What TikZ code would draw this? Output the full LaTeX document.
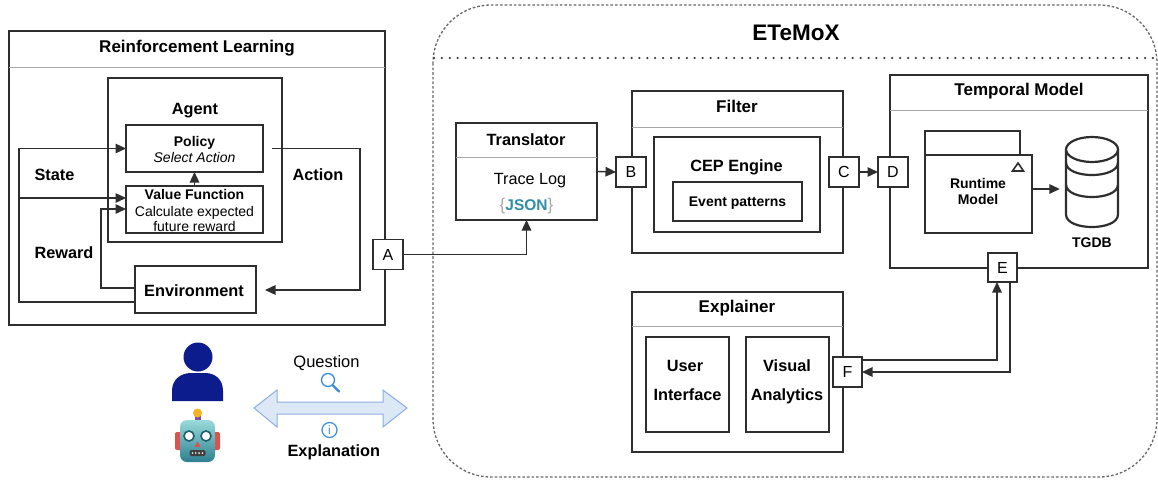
\documentclass[tikz,border=0pt]{standalone}
\usepackage{fontspec}
\setmainfont{Liberation Sans}
\usetikzlibrary{arrows.meta}
\definecolor{linec}{HTML}{2E2E2E}
\definecolor{sepc}{HTML}{A8A8A8}
\definecolor{contc}{HTML}{666666}
\definecolor{dotc}{HTML}{404040}
\definecolor{navy}{HTML}{0C1C8C}
\definecolor{jsonc}{HTML}{2E8FA6}
\definecolor{bracec}{HTML}{A8A8A8}
\definecolor{arrfill}{HTML}{DDE8F7}
\definecolor{arrline}{HTML}{8FAEDD}
\definecolor{iconc}{HTML}{3B8BE0}
\definecolor{robotred}{HTML}{D9534F}
\definecolor{robotorange}{HTML}{F5B323}
\definecolor{robotpurple}{HTML}{7B4FA0}
\definecolor{robottop}{HTML}{9ADADA}
\definecolor{robotbot}{HTML}{2D8090}
\definecolor{roboteye}{HTML}{1F5F70}
\begin{document}
\begin{tikzpicture}[x=1pt,y=-1pt,
  box/.style={draw=linec, line width=1.4pt, fill=white, inner sep=0pt, outer sep=0pt},
  port/.style={box, minimum width=30pt, minimum height=30pt, font=\fontsize{16}{18}\selectfont},
  sep/.style={draw=sepc, line width=0.9pt},
  ln/.style={draw=linec, line width=1.4pt},
  arr/.style={ln, -{Triangle[length=10.5pt,width=9.5pt]}},
  txt/.style={inner sep=0pt, anchor=base},
  big/.style={txt, font=\bfseries\fontsize{16.3}{18}\selectfont},
  ttl/.style={txt, font=\bfseries\fontsize{17}{19}\selectfont},
  sml/.style={txt, font=\bfseries\fontsize{14}{16}\selectfont},
  reg/.style={txt, font=\fontsize{14}{16}\selectfont},
  pkg/.style={draw=linec, line width=2.2pt, fill=white},
]
\useasboundingbox (0,0) rectangle (1158,479);

% ---------------- Reinforcement Learning ----------------
\node[box, minimum width=376pt, minimum height=294pt] (rl) at (197,178) {};
\draw[sep] (9,67) -- (385,67);
\node[ttl] (rlT) at (197,52) {Reinforcement Learning};

\node[box, minimum width=174pt, minimum height=164pt] (agent) at (195,160) {};
\node[big] (agentT) at (195,114) {Agent};

\node[box, minimum width=137pt, minimum height=47pt] (policy) at (194.5,148.5) {};
\node[sml] (policyT) at (194.5,146.5) {Policy};
\node[reg, font=\itshape\fontsize{14}{16}\selectfont] (policyS) at (194.5,162.5) {Select Action};

\node[box, minimum width=137pt, minimum height=47pt] (value) at (194.5,209.5) {};
\node[sml] (valueT) at (194.5,199) {Value Function};
\node[reg] (valueS1) at (194.5,216) {Calculate expected};
\node[reg] (valueS2) at (194.5,231) {future reward};

\node[box, minimum width=121pt, minimum height=47pt] (env) at (195.5,289.5) {};
\node[big] (envT) at (194,296.5) {Environment};

\node[big] (stateT) at (54.5,180.5) {State};
\node[big] (rewardT) at (64,258) {Reward};
\node[big] (actionT) at (318,180.5) {Action};

\coordinate (yS) at (0,302);
\coordinate (yV) at (0,198);
\coordinate (yR) at (0,288);
\coordinate (yVR) at (0,209);
\coordinate (yAct) at (0,290);
\coordinate (xS) at (19,0);
\coordinate (xR) at (101,0);
\coordinate (xAct) at (360,0);

\draw[arr] (value.north) -- (policy.south);
\draw[arr] (env.west |- yS) -- (xS |- yS) -- (xS |- policy.west) -- (policy.west);
\draw[arr] (xS |- yV) -- (value.west |- yV);
\draw[arr] (env.west |- yR) -- (xR |- yR) -- (xR |- yVR) -- (value.west |- yVR);
\draw[arr, shorten >=9pt] ([xshift=9pt]policy.east) -- (xAct |- policy.east) -- (xAct |- yAct) -- (env.east |- yAct);

% ---------------- ETeMoX container ----------------
\draw[draw=contc, line width=1.3pt, dash pattern=on 2.6pt off 2pt, rounded corners=58pt]
  (433,5) rectangle (1157,477);
\draw[draw=dotc, line width=2.5pt, line cap=round, dash pattern=on 0pt off 7.9pt] (434,58) -- (1157,58);
\node[txt, font=\bfseries\fontsize{22.5}{26}\selectfont] (etemoxT) at (796,40) {ETeMoX};

% Translator
\node[box, minimum width=141pt, minimum height=97pt] (translator) at (526.5,171.5) {};
\draw[sep] (456,157) -- (597,157);
\node[big] (translatorT) at (526,145) {Translator};
\node[txt, font=\fontsize{16.2}{18}\selectfont] (traceT) at (530,184) {Trace Log};
\node[txt, font=\bfseries\fontsize{15.5}{17}\selectfont] (jsonT) at (526.5,210)
  {\textcolor{bracec}{\mdseries\fontsize{17}{17}\selectfont\{}\textcolor{jsonc}{JSON}\textcolor{bracec}{\mdseries\fontsize{17}{17}\selectfont\}}};

% Filter
\node[box, minimum width=211pt, minimum height=162pt] (filter) at (737.5,172) {};
\draw[sep] (632,127) -- (843,127);
\node[ttl] (filterT) at (737,112.5) {Filter};
\node[box, minimum width=166pt, minimum height=95pt] (cep) at (737,184.5) {};
\node[big] (cepT) at (736.5,171.5) {CEP Engine};
\node[box, minimum width=129pt, minimum height=39pt] (events) at (737.5,201.5) {};
\node[sml] (eventsT) at (737.5,206.5) {Event patterns};

% Temporal Model
\node[box, minimum width=258pt, minimum height=193pt] (temporal) at (1019,171.5) {};
\draw[sep] (890,110) -- (1148,110);
\node[ttl] (temporalT) at (1019,95) {Temporal Model};

\draw[pkg] (925,131) rectangle (1020,155);
\node[pkg, minimum width=107pt, minimum height=78pt, inner sep=0pt] (rtm) at (978.5,194) {};
\draw[linec, line width=1.6pt, line join=miter] (1012.5,171) -- (1023.5,171) -- (1018,163) -- cycle;
\node[sml] (rtmT1) at (978,188) {Runtime};
\node[sml] (rtmT2) at (978,204) {Model};

% graph database cylinder
\node[minimum width=52pt, minimum height=90pt, inner sep=0pt] (db) at (1092,182) {};
\draw[linec, line width=2.2pt] (1066,149.5) -- (1066,214.5)
  .. controls (1066,231.2) and (1118,231.2) .. (1118,214.5) -- (1118,149.5);
\draw[linec, line width=2.2pt] (1092,149.5) ellipse [x radius=26pt, y radius=12.5pt];
\draw[linec, line width=2.2pt] (1066,162.5) .. controls (1066,179.2) and (1118,179.2) .. (1118,162.5);
\draw[linec, line width=2.2pt] (1066,184.5) .. controls (1066,201.2) and (1118,201.2) .. (1118,184.5);
\node[sml] (dbT) at (1092,247.5) {TGDB};
\coordinate (rtmOut) at ([yshift=5pt]rtm.east);
\draw[arr, shorten >=6pt] (rtmOut) -- (db.west |- rtmOut);

% Explainer
\node[box, minimum width=211pt, minimum height=160pt] (explainer) at (737.5,372) {};
\draw[sep] (632,326) -- (843,326);
\node[ttl] (explainerT) at (737,312.5) {Explainer};
\node[box, minimum width=83pt, minimum height=95pt] (ui) at (687.5,384.5) {};
\node[big] (uiT1) at (685,371.5) {User};
\node[big] (uiT2) at (687.5,400.5) {Interface};
\node[box, minimum width=83pt, minimum height=95pt] (va) at (787.5,384.5) {};
\node[big] (vaT1) at (787,371.5) {Visual};
\node[big] (vaT2) at (787,400.5) {Analytics};

% ports and data flow
\node[port] (A) at (388,254.5) {A};
\node[port] (B) at (631,172) {B};
\node[port] (C) at (844,172) {C};
\node[port] (D) at (893,172) {D};
\node[port, minimum width=29pt, minimum height=29pt] (E) at (1002.5,267.5) {E};
\node[port, minimum width=29pt] (F) at (847.5,372) {F};

\draw[arr] (A.east) -| (translator.south);
\draw[arr] (translator.east) -- (B.west);
\draw[arr] (C.east) -- (D.west);
\coordinate (yFE) at (0,360);
\draw[arr] (F.east |- yFE) -| ([xshift=-5.5pt]E.south);
\draw[arr] ([xshift=7.5pt]E.south) |- (F.east);

% ---------------- user, robot and dialogue ----------------
\fill[navy] (198,357) circle [radius=14.5pt];
\fill[navy] (172,401) -- (172,391) .. controls (172,379) and (181,373.5) .. (190,373)
  -- (206,373) .. controls (215,373.5) and (223,379) .. (223,391) -- (223,401) -- cycle;

\fill[robotpurple] (194.5,414) rectangle (200.5,421);
\fill[robotorange] (197.5,413) circle [radius=4.5pt];
\fill[robotred, rounded corners=2pt] (175,432) rectangle (183,450);
\fill[robotred, rounded corners=2pt] (212,432) rectangle (220,450);
\shade[top color=robottop, bottom color=robotbot, rounded corners=7pt] (180,420) rectangle (215,462);
\filldraw[fill=white, draw=roboteye, line width=1.6pt] (189,436) circle [radius=5pt];
\filldraw[fill=white, draw=roboteye, line width=1.6pt] (206,436) circle [radius=5pt];
\fill[robotred] (194.5,447) -- (200.5,447) -- (197.5,441.5) -- cycle;
\fill[black!75, rounded corners=2pt] (189.5,450) rectangle (205.5,456);
\foreach \dx in {192.5,195.8,199.1,202.4} \fill[white] (\dx,453) circle [radius=0.9pt];

\draw[fill=arrfill, draw=arrline, line width=1pt, line join=miter]
  (254,408) -- (277,390) -- (277,402) -- (383,402) -- (383,390) -- (407,408)
  -- (383,427) -- (383,414) -- (277,414) -- (277,427) -- cycle;
\node[txt, font=\fontsize{16.5}{18}\selectfont] (questionT) at (326.5,367.3) {Question};
\draw[iconc, line width=1.3pt] (328,380) circle [radius=6.5pt];
\draw[iconc, line width=2.2pt, line cap=round] (333,385.5) -- (339,391.5);
\draw[iconc, line width=1.2pt] (329.5,430) circle [radius=7.5pt];
\node[iconc, inner sep=0pt, font=\fontsize{12}{12}\selectfont] (infoI) at (329.5,430) {i};
\node[big] (explanationT) at (333.8,456) {Explanation};
\end{tikzpicture}
\end{document}
